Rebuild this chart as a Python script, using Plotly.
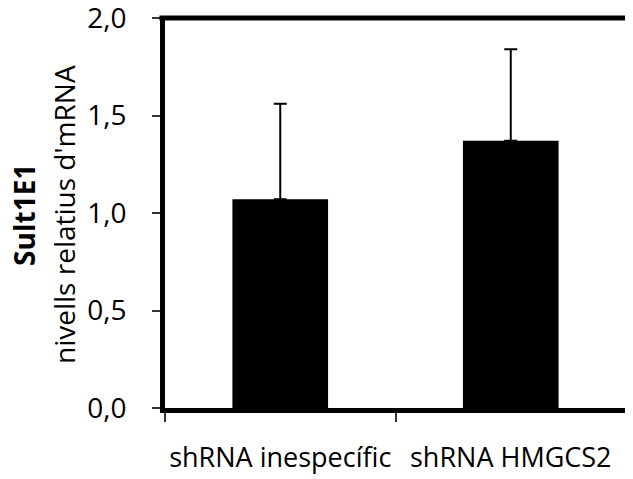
import plotly.graph_objects as go

categories = ["shRNA inespecífic", "shRNA HMGCS2"]
values = [1.07, 1.37]
errors = [0.49, 0.47]
y_ticks = [0.0, 0.5, 1.0, 1.5, 2.0]

FONT = "Open Sans, DejaVu Sans, sans-serif"

fig = go.Figure()
fig.add_trace(go.Bar(
    x=categories, y=values,
    marker=dict(color="black", line=dict(width=0)),
    error_y=dict(type="data", array=errors, symmetric=False, arrayminus=[0, 0],
                 color="black", thickness=2, width=6.5, visible=True),
    width=0.415,
))

fig.update_layout(
    width=633, height=479,
    margin=dict(l=157, r=15, t=10, b=79, pad=0, autoexpand=False),
    paper_bgcolor="white", plot_bgcolor="white",
    separators=",.",
    showlegend=False,
    font=dict(family=FONT, color="black", size=28),
    xaxis=dict(
        type="category", range=[-0.5, 1.5], automargin=False,
        showline=True, linecolor="black", linewidth=5,
        ticks="outside", tickson="boundaries", ticklen=9, tickwidth=1.5, tickcolor="#333",
        tickfont=dict(size=27), tickangle=0, ticklabelstandoff=22, ticklabeloverflow="allow",
        showgrid=False, zeroline=False,
    ),
    yaxis=dict(
        range=[0, 2.0], tickvals=y_ticks, tickformat=".1f", automargin=False,
        showline=True, linecolor="black", linewidth=5,
        ticks="outside", ticklen=8, tickwidth=1.5, tickcolor="#333",
        tickfont=dict(size=28), ticklabelstandoff=20, ticklabeloverflow="allow",
        showgrid=False, zeroline=False,
    ),
    shapes=[dict(type="line", xref="paper", yref="paper", x0=-0.012, x1=1.06, y0=1, y1=1,
                 line=dict(color="black", width=5))],
    annotations=[
        dict(text="<b>Sult1E1</b>", xref="paper", yref="paper", x=-0.306, y=0.495,
             xanchor="center", yanchor="middle", textangle=-90, showarrow=False,
             font=dict(size=28)),
        dict(text="nivells relatius d'mRNA", xref="paper", yref="paper", x=-0.219, y=0.495,
             xanchor="center", yanchor="middle", textangle=-90, showarrow=False,
             font=dict(size=28)),
    ],
)

fig.write_html("out.html")
